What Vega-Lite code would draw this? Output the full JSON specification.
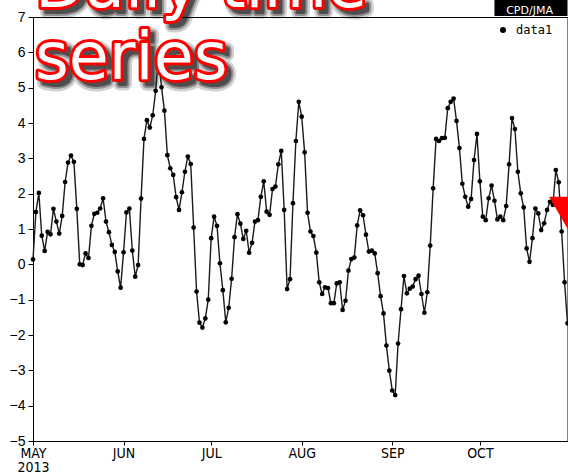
{
  "$schema": "https://vega.github.io/schema/vega-lite/v6.json",
  "width": 534.5,
  "height": 424,
  "autosize": {"type": "none"},
  "padding": {"left": 33, "top": 17, "right": 0.5, "bottom": 34},
  "background": "white",
  "config": {
    "view": {"stroke": "black", "strokeWidth": 1},
    "axis": {
      "domainColor": "black",
      "tickColor": "black",
      "labelColor": "black",
      "grid": false,
      "title": null,
      "labelFlush": false,
      "labelOverlap": false,
      "labelBound": false
    }
  },
  "datasets": {
    "daily": [
      {"date": "2013-05-01", "value": 0.14}, {"date": "2013-05-02", "value": 1.48}, {"date": "2013-05-03", "value": 2.02},
      {"date": "2013-05-04", "value": 0.81}, {"date": "2013-05-05", "value": 0.38}, {"date": "2013-05-06", "value": 0.92},
      {"date": "2013-05-07", "value": 0.85}, {"date": "2013-05-08", "value": 1.57}, {"date": "2013-05-09", "value": 1.21},
      {"date": "2013-05-10", "value": 0.87}, {"date": "2013-05-11", "value": 1.37}, {"date": "2013-05-12", "value": 2.33},
      {"date": "2013-05-13", "value": 2.88}, {"date": "2013-05-14", "value": 3.08}, {"date": "2013-05-15", "value": 2.90},
      {"date": "2013-05-16", "value": 1.57}, {"date": "2013-05-17", "value": 0.00}, {"date": "2013-05-18", "value": -0.02},
      {"date": "2013-05-19", "value": 0.31}, {"date": "2013-05-20", "value": 0.18}, {"date": "2013-05-21", "value": 1.09},
      {"date": "2013-05-22", "value": 1.43}, {"date": "2013-05-23", "value": 1.46}, {"date": "2013-05-24", "value": 1.58},
      {"date": "2013-05-25", "value": 1.87}, {"date": "2013-05-26", "value": 1.21}, {"date": "2013-05-27", "value": 0.91},
      {"date": "2013-05-28", "value": 0.55}, {"date": "2013-05-29", "value": 0.35}, {"date": "2013-05-30", "value": -0.20},
      {"date": "2013-05-31", "value": -0.66},
      {"date": "2013-06-01", "value": 0.34}, {"date": "2013-06-02", "value": 1.47}, {"date": "2013-06-03", "value": 1.58},
      {"date": "2013-06-04", "value": 0.39}, {"date": "2013-06-05", "value": -0.35}, {"date": "2013-06-06", "value": -0.02},
      {"date": "2013-06-07", "value": 1.86}, {"date": "2013-06-08", "value": 3.55}, {"date": "2013-06-09", "value": 4.08},
      {"date": "2013-06-10", "value": 3.87}, {"date": "2013-06-11", "value": 4.22}, {"date": "2013-06-12", "value": 4.91},
      {"date": "2013-06-13", "value": 5.90}, {"date": "2013-06-14", "value": 5.01}, {"date": "2013-06-15", "value": 4.35},
      {"date": "2013-06-16", "value": 3.09}, {"date": "2013-06-17", "value": 2.72}, {"date": "2013-06-18", "value": 2.53},
      {"date": "2013-06-19", "value": 1.90}, {"date": "2013-06-20", "value": 1.54}, {"date": "2013-06-21", "value": 2.04},
      {"date": "2013-06-22", "value": 2.62}, {"date": "2013-06-23", "value": 3.05}, {"date": "2013-06-24", "value": 2.84},
      {"date": "2013-06-25", "value": 1.04}, {"date": "2013-06-26", "value": -0.77}, {"date": "2013-06-27", "value": -1.65},
      {"date": "2013-06-28", "value": -1.79}, {"date": "2013-06-29", "value": -1.53}, {"date": "2013-06-30", "value": -1.00},
      {"date": "2013-07-01", "value": 0.74}, {"date": "2013-07-02", "value": 1.35}, {"date": "2013-07-03", "value": 1.09},
      {"date": "2013-07-04", "value": 0.03}, {"date": "2013-07-05", "value": -0.73}, {"date": "2013-07-06", "value": -1.64},
      {"date": "2013-07-07", "value": -1.23}, {"date": "2013-07-08", "value": -0.41}, {"date": "2013-07-09", "value": 0.77},
      {"date": "2013-07-10", "value": 1.42}, {"date": "2013-07-11", "value": 1.15}, {"date": "2013-07-12", "value": 0.72},
      {"date": "2013-07-13", "value": 0.95}, {"date": "2013-07-14", "value": 0.33}, {"date": "2013-07-15", "value": 0.61},
      {"date": "2013-07-16", "value": 1.21}, {"date": "2013-07-17", "value": 1.25}, {"date": "2013-07-18", "value": 1.91},
      {"date": "2013-07-19", "value": 2.35}, {"date": "2013-07-20", "value": 1.49}, {"date": "2013-07-21", "value": 1.40},
      {"date": "2013-07-22", "value": 2.13}, {"date": "2013-07-23", "value": 2.20}, {"date": "2013-07-24", "value": 2.83},
      {"date": "2013-07-25", "value": 3.21}, {"date": "2013-07-26", "value": 1.54}, {"date": "2013-07-27", "value": -0.70},
      {"date": "2013-07-28", "value": -0.42}, {"date": "2013-07-29", "value": 1.73}, {"date": "2013-07-30", "value": 3.49},
      {"date": "2013-07-31", "value": 4.60},
      {"date": "2013-08-01", "value": 4.18}, {"date": "2013-08-02", "value": 3.17}, {"date": "2013-08-03", "value": 1.46},
      {"date": "2013-08-04", "value": 0.93}, {"date": "2013-08-05", "value": 0.80}, {"date": "2013-08-06", "value": 0.33},
      {"date": "2013-08-07", "value": -0.51}, {"date": "2013-08-08", "value": -0.84}, {"date": "2013-08-09", "value": -0.65},
      {"date": "2013-08-10", "value": -0.67}, {"date": "2013-08-11", "value": -1.10}, {"date": "2013-08-12", "value": -1.10},
      {"date": "2013-08-13", "value": -0.54}, {"date": "2013-08-14", "value": -0.51}, {"date": "2013-08-15", "value": -1.29},
      {"date": "2013-08-16", "value": -1.03}, {"date": "2013-08-17", "value": -0.18}, {"date": "2013-08-18", "value": 0.15},
      {"date": "2013-08-19", "value": 0.19}, {"date": "2013-08-20", "value": 1.10}, {"date": "2013-08-21", "value": 1.53},
      {"date": "2013-08-22", "value": 1.39}, {"date": "2013-08-23", "value": 0.84}, {"date": "2013-08-24", "value": 0.36},
      {"date": "2013-08-25", "value": 0.39}, {"date": "2013-08-26", "value": 0.31}, {"date": "2013-08-27", "value": -0.25},
      {"date": "2013-08-28", "value": -0.90}, {"date": "2013-08-29", "value": -1.39}, {"date": "2013-08-30", "value": -2.30},
      {"date": "2013-08-31", "value": -3.01},
      {"date": "2013-09-01", "value": -3.57}, {"date": "2013-09-02", "value": -3.70}, {"date": "2013-09-03", "value": -2.24},
      {"date": "2013-09-04", "value": -1.27}, {"date": "2013-09-05", "value": -0.33}, {"date": "2013-09-06", "value": -0.82},
      {"date": "2013-09-07", "value": -0.69}, {"date": "2013-09-08", "value": -0.63}, {"date": "2013-09-09", "value": -0.42},
      {"date": "2013-09-10", "value": -0.32}, {"date": "2013-09-11", "value": -0.84}, {"date": "2013-09-12", "value": -1.37},
      {"date": "2013-09-13", "value": -0.79}, {"date": "2013-09-14", "value": 0.53}, {"date": "2013-09-15", "value": 2.15},
      {"date": "2013-09-16", "value": 3.55}, {"date": "2013-09-17", "value": 3.49}, {"date": "2013-09-18", "value": 3.57},
      {"date": "2013-09-19", "value": 3.58}, {"date": "2013-09-20", "value": 4.42}, {"date": "2013-09-21", "value": 4.60},
      {"date": "2013-09-22", "value": 4.69}, {"date": "2013-09-23", "value": 4.06}, {"date": "2013-09-24", "value": 3.29},
      {"date": "2013-09-25", "value": 2.28}, {"date": "2013-09-26", "value": 1.91}, {"date": "2013-09-27", "value": 1.63},
      {"date": "2013-09-28", "value": 1.85}, {"date": "2013-09-29", "value": 2.95}, {"date": "2013-09-30", "value": 3.69},
      {"date": "2013-10-01", "value": 2.35}, {"date": "2013-10-02", "value": 1.35}, {"date": "2013-10-03", "value": 1.25},
      {"date": "2013-10-04", "value": 1.87}, {"date": "2013-10-05", "value": 2.23}, {"date": "2013-10-06", "value": 1.80},
      {"date": "2013-10-07", "value": 1.27}, {"date": "2013-10-08", "value": 1.35}, {"date": "2013-10-09", "value": 1.25},
      {"date": "2013-10-10", "value": 1.65}, {"date": "2013-10-11", "value": 2.83}, {"date": "2013-10-12", "value": 4.14},
      {"date": "2013-10-13", "value": 3.83}, {"date": "2013-10-14", "value": 2.62}, {"date": "2013-10-15", "value": 2.01},
      {"date": "2013-10-16", "value": 1.61}, {"date": "2013-10-17", "value": 0.45}, {"date": "2013-10-18", "value": 0.07},
      {"date": "2013-10-19", "value": 0.74}, {"date": "2013-10-20", "value": 1.58}, {"date": "2013-10-21", "value": 1.44},
      {"date": "2013-10-22", "value": 0.97}, {"date": "2013-10-23", "value": 1.16}, {"date": "2013-10-24", "value": 1.54},
      {"date": "2013-10-25", "value": 1.77}, {"date": "2013-10-26", "value": 1.68}, {"date": "2013-10-27", "value": 2.67},
      {"date": "2013-10-28", "value": 2.32}, {"date": "2013-10-29", "value": 0.93}, {"date": "2013-10-30", "value": -0.51},
      {"date": "2013-10-31", "value": -1.67}
    ],
    "latest": [{"date": "2013-11-01", "value": 1.39}],
    "credit": [{"start": "2013-10-06", "end": "2013-10-31", "label": "CPD/JMA"}],
    "heading": [{"text": "Daily time series"}]
  },
  "layer": [
    {
      "data": {"name": "daily"},
      "encoding": {
        "x": {
          "field": "date",
          "type": "temporal",
          "scale": {"type": "utc", "domain": [{"year": 2013, "month": 5, "date": 1, "utc": true}, {"year": 2013, "month": 10, "date": 31, "utc": true}]},
          "axis": {
            "values": [{"year": 2013, "month": 5, "date": 1, "utc": true}, {"year": 2013, "month": 6, "date": 1, "utc": true}, {"year": 2013, "month": 7, "date": 1, "utc": true}, {"year": 2013, "month": 8, "date": 1, "utc": true}, {"year": 2013, "month": 9, "date": 1, "utc": true}, {"year": 2013, "month": 10, "date": 1, "utc": true}],
            "labelExpr": "utcmonth(datum.value) == 4 ? [upper(utcFormat(datum.value, '%b')), utcFormat(datum.value, '%Y')] : upper(utcFormat(datum.value, '%b'))",
            "labelFont": "DejaVu Sans Condensed, Liberation Sans", "labelFontSize": 14, "labelLineHeight": 14, "tickSize": 4, "labelPadding": 1
          }
        },
        "y": {
          "field": "value",
          "type": "quantitative",
          "scale": {"domain": [-5, 7], "nice": false, "zero": false},
          "axis": {"values": [-5, -4, -3, -2, -1, 0, 1, 2, 3, 4, 5, 6, 7], "labelFont": "Liberation Sans", "labelFontSize": 14, "tickSize": 5, "labelPadding": 3}
        }
      },
      "layer": [
        {"mark": {"type": "line", "color": "#1a1a1a", "strokeWidth": 1.4}},
        {
          "mark": {"type": "point", "filled": true, "size": 22, "opacity": 1},
          "encoding": {
            "color": {
              "datum": "data1",
              "scale": {"range": ["black"]},
              "legend": {
                "orient": "none", "legendX": 464, "legendY": 7, "title": null, "padding": 0,
                "symbolType": "circle", "symbolSize": 36, "labelOffset": 7,
                "labelFont": "DejaVu Sans Mono", "labelFontSize": 12, "labelColor": "black"
              }
            }
          }
        }
      ]
    },
    {
      "data": {"name": "latest"},
      "mark": {"type": "point", "shape": "triangle-down", "filled": true, "color": "#ff0000", "size": 1815, "opacity": 1},
      "encoding": {
        "x": {
          "field": "date",
          "type": "temporal",
          "scale": {"type": "utc", "domain": [{"year": 2013, "month": 5, "date": 1, "utc": true}, {"year": 2013, "month": 10, "date": 31, "utc": true}]},
          "axis": {
            "values": [{"year": 2013, "month": 5, "date": 1, "utc": true}, {"year": 2013, "month": 6, "date": 1, "utc": true}, {"year": 2013, "month": 7, "date": 1, "utc": true}, {"year": 2013, "month": 8, "date": 1, "utc": true}, {"year": 2013, "month": 9, "date": 1, "utc": true}, {"year": 2013, "month": 10, "date": 1, "utc": true}],
            "labelExpr": "utcmonth(datum.value) == 4 ? [upper(utcFormat(datum.value, '%b')), utcFormat(datum.value, '%Y')] : upper(utcFormat(datum.value, '%b'))",
            "labelFont": "DejaVu Sans Condensed, Liberation Sans", "labelFontSize": 14, "labelLineHeight": 14, "tickSize": 4, "labelPadding": 1
          }
        },
        "y": {
          "field": "value",
          "type": "quantitative",
          "scale": {"domain": [-5, 7], "nice": false, "zero": false},
          "axis": {"values": [-5, -4, -3, -2, -1, 0, 1, 2, 3, 4, 5, 6, 7], "labelFont": "Liberation Sans", "labelFontSize": 14, "tickSize": 5, "labelPadding": 3}
        }
      }
    },
    {
      "data": {"name": "credit"},
      "mark": {"type": "rect", "color": "black"},
      "encoding": {
        "x": {
          "field": "start",
          "type": "temporal",
          "scale": {"type": "utc", "domain": [{"year": 2013, "month": 5, "date": 1, "utc": true}, {"year": 2013, "month": 10, "date": 31, "utc": true}]},
          "axis": {
            "values": [{"year": 2013, "month": 5, "date": 1, "utc": true}, {"year": 2013, "month": 6, "date": 1, "utc": true}, {"year": 2013, "month": 7, "date": 1, "utc": true}, {"year": 2013, "month": 8, "date": 1, "utc": true}, {"year": 2013, "month": 9, "date": 1, "utc": true}, {"year": 2013, "month": 10, "date": 1, "utc": true}],
            "labelExpr": "utcmonth(datum.value) == 4 ? [upper(utcFormat(datum.value, '%b')), utcFormat(datum.value, '%Y')] : upper(utcFormat(datum.value, '%b'))",
            "labelFont": "DejaVu Sans Condensed, Liberation Sans", "labelFontSize": 14, "labelLineHeight": 14, "tickSize": 4, "labelPadding": 1
          }
        },
        "x2": {"field": "end"},
        "y": {
          "datum": 7.03,
          "type": "quantitative",
          "scale": {"domain": [-5, 7], "nice": false, "zero": false},
          "axis": {"values": [-5, -4, -3, -2, -1, 0, 1, 2, 3, 4, 5, 6, 7], "labelFont": "Liberation Sans", "labelFontSize": 14, "tickSize": 5, "labelPadding": 3}
        },
        "y2": {"datum": 7.5}
      }
    },
    {
      "data": {"name": "credit"},
      "mark": {"type": "text", "color": "white", "font": "DejaVu Sans", "fontSize": 11, "align": "center", "baseline": "alphabetic"},
      "encoding": {
        "x": {
          "datum": {"year": 2013, "month": 10, "date": 18, "utc": true},
          "type": "temporal",
          "scale": {"type": "utc", "domain": [{"year": 2013, "month": 5, "date": 1, "utc": true}, {"year": 2013, "month": 10, "date": 31, "utc": true}]},
          "axis": {
            "values": [{"year": 2013, "month": 5, "date": 1, "utc": true}, {"year": 2013, "month": 6, "date": 1, "utc": true}, {"year": 2013, "month": 7, "date": 1, "utc": true}, {"year": 2013, "month": 8, "date": 1, "utc": true}, {"year": 2013, "month": 9, "date": 1, "utc": true}, {"year": 2013, "month": 10, "date": 1, "utc": true}],
            "labelExpr": "utcmonth(datum.value) == 4 ? [upper(utcFormat(datum.value, '%b')), utcFormat(datum.value, '%Y')] : upper(utcFormat(datum.value, '%b'))",
            "labelFont": "DejaVu Sans Condensed, Liberation Sans", "labelFontSize": 14, "labelLineHeight": 14, "tickSize": 4, "labelPadding": 1
          }
        },
        "y": {
          "datum": 7.085,
          "type": "quantitative",
          "scale": {"domain": [-5, 7], "nice": false, "zero": false},
          "axis": {"values": [-5, -4, -3, -2, -1, 0, 1, 2, 3, 4, 5, 6, 7], "labelFont": "Liberation Sans", "labelFontSize": 14, "tickSize": 5, "labelPadding": 3}
        },
        "text": {"field": "label"}
      }
    },
    {
      "data": {"name": "heading"},
      "encoding": {
        "x": {
          "datum": {"year": 2013, "month": 5, "date": 1, "utc": true},
          "type": "temporal",
          "scale": {"type": "utc", "domain": [{"year": 2013, "month": 5, "date": 1, "utc": true}, {"year": 2013, "month": 10, "date": 31, "utc": true}]},
          "axis": {
            "values": [{"year": 2013, "month": 5, "date": 1, "utc": true}, {"year": 2013, "month": 6, "date": 1, "utc": true}, {"year": 2013, "month": 7, "date": 1, "utc": true}, {"year": 2013, "month": 8, "date": 1, "utc": true}, {"year": 2013, "month": 9, "date": 1, "utc": true}, {"year": 2013, "month": 10, "date": 1, "utc": true}],
            "labelExpr": "utcmonth(datum.value) == 4 ? [upper(utcFormat(datum.value, '%b')), utcFormat(datum.value, '%Y')] : upper(utcFormat(datum.value, '%b'))",
            "labelFont": "DejaVu Sans Condensed, Liberation Sans", "labelFontSize": 14, "labelLineHeight": 14, "tickSize": 4, "labelPadding": 1
          }
        },
        "y": {
          "datum": 7.28,
          "type": "quantitative",
          "scale": {"domain": [-5, 7], "nice": false, "zero": false},
          "axis": {"values": [-5, -4, -3, -2, -1, 0, 1, 2, 3, 4, 5, 6, 7], "labelFont": "Liberation Sans", "labelFontSize": 14, "tickSize": 5, "labelPadding": 3}
        }
      },
      "layer": [
        {"mark": {"type": "text", "text": ["Daily time", "series"], "font": "DejaVu Sans", "fontSize": 65, "lineHeight": 72, "align": "left", "baseline": "alphabetic", "dx": 7, "dy": 5, "fill": "black", "stroke": "black", "strokeWidth": 13, "strokeJoin": "round", "opacity": 0.18}},
        {"mark": {"type": "text", "text": ["Daily time", "series"], "font": "DejaVu Sans", "fontSize": 65, "lineHeight": 72, "align": "left", "baseline": "alphabetic", "dx": 7, "dy": 5, "fill": "black", "stroke": "black", "strokeWidth": 8, "strokeJoin": "round", "opacity": 0.3}},
        {"mark": {"type": "text", "text": ["Daily time", "series"], "font": "DejaVu Sans", "fontSize": 65, "lineHeight": 72, "align": "left", "baseline": "alphabetic", "dx": 7, "dy": 5, "fill": "black", "stroke": "black", "strokeWidth": 4, "strokeJoin": "round", "opacity": 0.45}},
        {"mark": {"type": "text", "text": ["Daily time", "series"], "font": "DejaVu Sans", "fontSize": 65, "lineHeight": 72, "align": "left", "baseline": "alphabetic", "dx": 2, "fill": "#ff0000", "stroke": "#ff0000", "strokeWidth": 6, "strokeJoin": "round"}},
        {"mark": {"type": "text", "text": ["Daily time", "series"], "font": "DejaVu Sans", "fontSize": 65, "lineHeight": 72, "align": "left", "baseline": "alphabetic", "dx": 2, "fill": "white"}}
      ]
    }
  ]
}
